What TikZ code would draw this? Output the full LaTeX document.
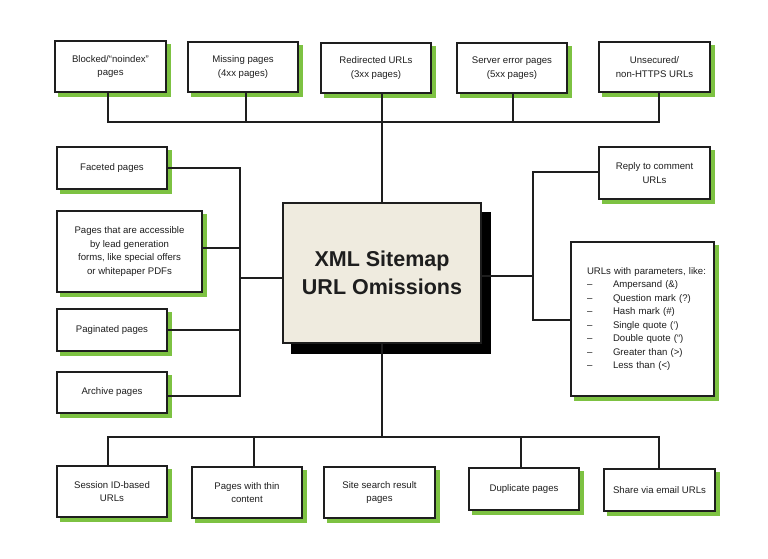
\documentclass[tikz,border=0pt]{standalone}
\usepackage{fontspec}
\setmainfont{Liberation Sans}
\usetikzlibrary{backgrounds}
\definecolor{sgreen}{HTML}{7DC242}
\definecolor{beige}{HTML}{EFEBDF}
\definecolor{ink}{HTML}{1E1E1E}
\begin{document}
\begin{tikzpicture}[x=1pt,y=-1pt,
  box/.style={draw=ink, line width=1.3pt, fill=white, align=center, inner sep=2pt,
    font=\fontsize{9.6}{13.5}\selectfont, text=ink},
  conn/.style={draw=ink, line width=1.3pt},
  central/.style={draw=ink, line width=1.2pt, fill=beige, align=center,
    font=\fontsize{21.5}{28}\selectfont\bfseries, text=ink}]
\useasboundingbox (0,0) rectangle (768,559);
% top row
\node[box, minimum width=111, minimum height=51] (b1) at (110.5,66.5) {Blocked/“noindex”\\pages};
\node[box, minimum width=110, minimum height=50] (b2) at (243,67) {Missing pages\\(4xx pages)};
\node[box, minimum width=110, minimum height=50] (b3) at (376,68) {Redirected URLs\\(3xx pages)};
\node[box, minimum width=110, minimum height=50] (b4) at (512,68) {Server error pages\\(5xx pages)};
\node[box, minimum width=111, minimum height=50] (b5) at (654.5,67) {Unsecured/\\non-HTTPS URLs};
% central
\node[central, minimum width=198, minimum height=140] (c) at (382,273) {XML Sitemap\\URL Omissions};
% left
\node[box, minimum width=110, minimum height=42] (l1) at (112,168) {Faceted pages};
\node[box, minimum width=145, minimum height=81] (l2) at (129.5,251.5) {Pages that are accessible\\by lead generation\\forms, like special offers\\or whitepaper PDFs};
\node[box, minimum width=110, minimum height=42] (l3) at (112,330) {Paginated pages};
\node[box, minimum width=110, minimum height=41] (l4) at (112,392.5) {Archive pages};
% right
\node[box, minimum width=111, minimum height=52] (r1) at (654.5,173) {Reply to comment\\URLs};
\node[box, minimum width=143, minimum height=154, text width=111pt, align=left] (r2) at (642.5,319)
  {\mbox{URLs with parameters, like:}\\
   \makebox[26pt][l]{–}Ampersand (\&)\\
   \makebox[26pt][l]{–}Question mark (?)\\
   \makebox[26pt][l]{–}Hash mark (\#)\\
   \makebox[26pt][l]{–}Single quote (‘)\\
   \makebox[26pt][l]{–}Double quote (“)\\
   \makebox[26pt][l]{–}Greater than (>)\\
   \makebox[26pt][l]{–}Less than (<)};
% bottom
\node[box, minimum width=110, minimum height=51] (d1) at (112,491.5) {Session ID-based\\URLs};
\node[box, minimum width=110, minimum height=51] (d2) at (247,492.5) {Pages with thin\\content};
\node[box, minimum width=111, minimum height=51] (d3) at (379.5,492.5) {Site search result\\pages};
\node[box, minimum width=110, minimum height=42] (d4) at (524,489) {Duplicate pages};
\node[box, minimum width=111, minimum height=42] (d5) at (659.5,490) {Share via email URLs};
% shadows
\begin{scope}[on background layer]
\foreach \n in {b1,b2,b3,b4,b5,l1,l2,l3,l4,r1,r2,d1,d2,d3,d4,d5}
  \fill[sgreen] ([shift={(4,4)}]\n.south west) rectangle ([shift={(4,4)}]\n.north east);
\fill[black] ([shift={(9,10)}]c.south west) rectangle ([shift={(9,10)}]c.north east);
\end{scope}
% junction coordinates
\coordinate (t1) at (108,122);
\coordinate (t2) at (246,122);
\coordinate (t3) at (382,122);
\coordinate (t4) at (513,122);
\coordinate (t5) at (659,122);
\coordinate (lx) at (240,278);
\coordinate (rx) at (533,276);
\coordinate (u1) at (108,437);
\coordinate (u2) at (254,437);
\coordinate (u3) at (382,437);
\coordinate (u4) at (521,437);
\coordinate (u5) at (659,437);
% top connectors
\draw[conn] (t1 |- b1.south) -- (t1) -- (t5) -- (t5 |- b5.south);
\draw[conn] (t2 |- b2.south) -- (t2);
\draw[conn] (t3 |- b3.south) -- (t3 |- c.north);
\draw[conn] (t4 |- b4.south) -- (t4);
% left connectors
\draw[conn] (lx -| c.west) -- (lx);
\draw[conn] (l1.east) -- (l1.east -| lx) -- (lx |- 0,396) -- (l4.east |- 0,396);
\draw[conn] (l2.east |- 0,248) -- (lx |- 0,248);
\draw[conn] (l3.east) -- (l3.east -| lx);
% right connectors
\draw[conn] (rx -| c.east) -- (rx);
\draw[conn] (r1.west |- 0,172) -- (rx |- 0,172) -- (rx |- 0,320) -- (r2.west |- 0,320);
% bottom connectors
\draw[conn] (u3 |- c.south) -- (u3);
\draw[conn] (u1 |- d1.north) -- (u1) -- (u5) -- (u5 |- d5.north);
\draw[conn] (u2 |- d2.north) -- (u2);
\draw[conn] (u4 |- d4.north) -- (u4);
\end{tikzpicture}
\end{document}
